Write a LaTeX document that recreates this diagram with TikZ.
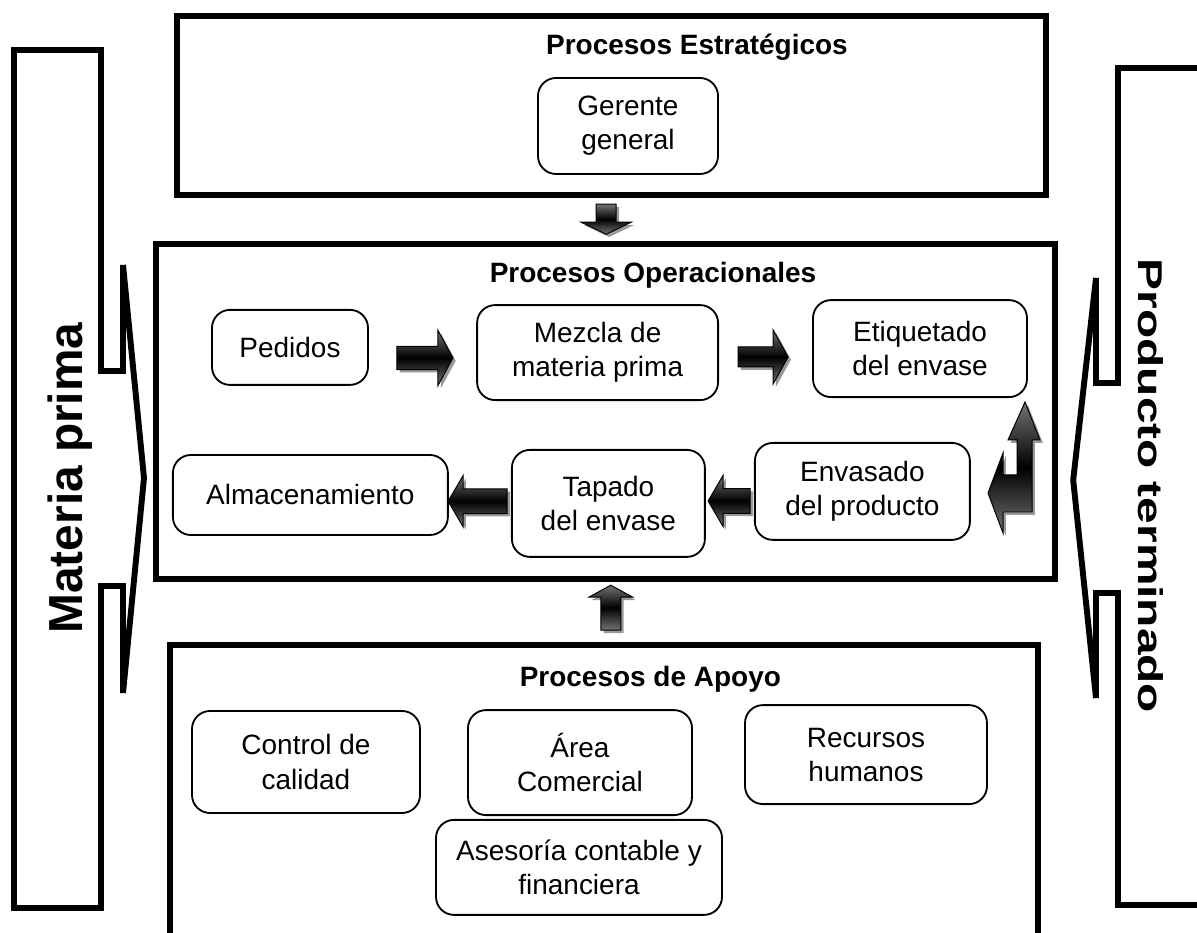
\documentclass[tikz,border=0pt]{standalone}
\usepackage{fontspec}
\setmainfont{Liberation Sans}
\usetikzlibrary{positioning,calc,shadows}
\tikzset{>=stealth}
\newcommand{\boxfont}{\fontsize{19.9}{24.2}\selectfont}
\newcommand{\sidefont}{\fontsize{34}{40}\selectfont\bfseries}

\begin{document}
\begin{tikzpicture}[
  bigbox/.style={draw, line width=4.2pt, inner sep=0pt},
  procbox/.style={draw, line width=1.3pt, rounded corners=0.45cm, align=center, inner sep=0pt, font=\boxfont},
  titulo/.style={font=\boxfont\bfseries},
  lado/.style={line width=4.2pt, line join=miter, miter limit=4},
  flecha/.style={draw, line width=0.7pt, top color=black!55, bottom color=black!55, middle color=black,
    drop shadow={shadow xshift=2pt, shadow yshift=-2pt, fill=black!40, opacity=1}}
]
\useasboundingbox (0,0) rectangle (29.925,23.325);
\clip (0,0) rectangle (29.925,23.325);

%Marcos grandes
\node[bigbox, minimum width=21.71cm, minimum height=4.475cm] (estrat) at (15.29,20.69) {};
\node[bigbox, minimum width=22.475cm, minimum height=8.39cm] (oper) at (15.14,13.04) {};
\node[bigbox, minimum width=21.7cm, minimum height=8.2cm] (apoyo) at (15.1,3.1) {};

\node[titulo, anchor=base east] (tEstrat) at (21.32,21.95) {Procesos Estratégicos};
\node[titulo, anchor=base west] (tOper) at (12.12,16.27) {Procesos Operacionales};
\node[titulo, anchor=base west] (tApoyo) at (12.87,6.15) {Procesos de Apoyo};

%Entradas y salidas
\draw[lado] (0.35,22.075) -- (2.525,22.075) -- (2.525,14.05) -- (3.075,14.05) -- (3.075,16.7)
  -- (3.6,11.375) -- (3.075,6.0) -- (3.075,8.675) -- (2.525,8.675) -- (2.525,0.625) -- (0.35,0.625) -- cycle;
\draw[lado] (30.5,21.625) -- (27.95,21.625) -- (27.95,13.75) -- (27.4,13.75) -- (27.4,16.375)
  -- (26.83,11.325) -- (27.4,5.875) -- (27.4,8.5) -- (27.95,8.5) -- (27.95,0.7) -- (30.5,0.7);
\node[font=\sidefont, rotate=90, anchor=base] (mp) at (2.05,11.375) {Materia prima};
\node[font=\sidefont, rotate=-90, yscale=0.72, anchor=base] (pt) at (28.45,11.175) {Producto terminado};

%Cajas
\node[procbox, minimum width=4.5cm, minimum height=2.4cm] (ger) at (15.7,20.175) {Gerente\\general};

\node[procbox, minimum width=3.9cm, minimum height=1.875cm] (ped) at (7.25,14.64) {Pedidos};
\node[procbox, minimum width=6.025cm, minimum height=2.375cm] (mez) at (14.94,14.51) {Mezcla de\\materia prima};
\node[procbox, minimum width=5.35cm, minimum height=2.425cm] (eti) at (23.0,14.61) {Etiquetado\\del envase};
\node[procbox, minimum width=6.875cm, minimum height=2.0cm] (alm) at (7.76,10.95) {Almacenamiento};
\node[procbox, minimum width=4.825cm, minimum height=2.675cm] (tap) at (15.21,10.74) {Tapado\\del envase};
\node[procbox, minimum width=5.375cm, minimum height=2.425cm] (env) at (21.56,11.04) {Envasado\\del producto};

\node[procbox, minimum width=5.7cm, minimum height=2.55cm] (cal) at (7.65,4.275) {Control de\\calidad};
\node[procbox, minimum width=5.6cm, minimum height=2.625cm] (com) at (14.5,4.26) {Área\\Comercial};
\node[procbox, minimum width=6.05cm, minimum height=2.475cm] (rh) at (21.65,4.46) {Recursos\\humanos};
\node[procbox, minimum width=7.15cm, minimum height=2.375cm] (ase) at (14.475,1.64) {Asesoría contable y\\financiera};

%Flechas
\coordinate (f1) at ($(ped.east)!0.5!(mez.west)+(0.06,-0.2)$);
\coordinate (f2) at ($(mez.east)!0.5!(eti.west)+(-0.06,-0.16)$);
\coordinate (f3) at ($(alm.east)!0.5!(tap.west)+(-0.06,-0.05)$);
\coordinate (f4) at ($(tap.east)!0.5!(env.west)+(-0.02,-0.09)$);
\coordinate (f5) at ($(estrat.south)!0.5!(oper.north)+(-0.06,0)$);
\coordinate (f6) at ($(oper.south)!0.5!(apoyo.north)+(0.15,0.11)$);

\draw[flecha] (f1) ++(-0.7,0.29) -- ++(1.025,0) -- ++(0,0.4) -- ++(0.375,-0.69) -- ++(-0.375,-0.69) -- ++(0,0.4) -- ++(-1.025,0) -- cycle;
\draw[flecha] (f2) ++(-0.625,0.25) -- ++(0.875,0) -- ++(0,0.425) -- ++(0.375,-0.675) -- ++(-0.375,-0.675) -- ++(0,0.425) -- ++(-0.875,0) -- cycle;
\draw[flecha] (f3) ++(0.74,0.31) -- ++(-1.1,0) -- ++(0,0.33) -- ++(-0.375,-0.64) -- ++(0.375,-0.64) -- ++(0,0.33) -- ++(1.1,0) -- cycle;
\draw[flecha] (f4) ++(0.525,0.31) -- ++(-0.675,0) -- ++(0,0.33) -- ++(-0.375,-0.64) -- ++(0.375,-0.64) -- ++(0,0.33) -- ++(0.675,0) -- cycle;
\draw[flecha] (f5) ++(-0.25,0.375) -- ++(0,-0.45) -- ++(-0.375,0) -- ++(0.625,-0.3) -- ++(0.625,0.3) -- ++(-0.375,0) -- ++(0,0.45) -- cycle;
\draw[flecha] (f6) ++(-0.25,-0.5625) -- ++(0,0.825) -- ++(-0.3,0) -- ++(0.55,0.3) -- ++(0.55,-0.3) -- ++(-0.3,0) -- ++(0,-0.825) -- cycle;
%flecha doble
\draw[flecha] (25.625,13.275) -- (26.0,12.325) -- (25.8,12.325) -- (25.8,10.525) -- (25.075,10.525) -- (25.075,10.0)
  -- (24.7,11.0) -- (25.075,12.0) -- (25.075,11.45) -- (25.425,11.45) -- (25.425,12.325) -- (25.2,12.325) -- cycle;
\end{tikzpicture}
\end{document}
